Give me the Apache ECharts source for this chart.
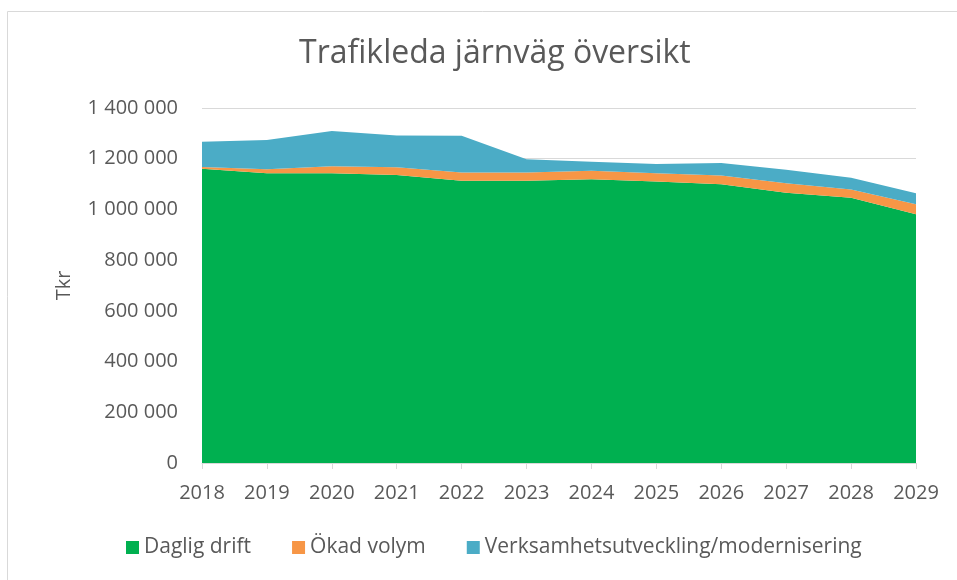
<!DOCTYPE html>
<html>
<head>
<meta charset="utf-8">
<script src="https://cdn.jsdelivr.net/npm/echarts@6/dist/echarts.min.js"></script>
<style>
  html, body { margin: 0; padding: 0; background: #fff; }
  #chart { width: 957px; height: 580px; }
</style>
</head>
<body>
<div id="chart"></div>
<script>
var years = ["2018", "2019", "2020", "2021", "2022", "2023", "2024", "2025", "2026", "2027", "2028", "2029"];
var dagligDrift = [1160000, 1143000, 1143000, 1136000, 1113000, 1113000, 1119000, 1110000, 1099000, 1066000, 1046000, 981000];
var okadVolym = [7000, 15000, 27000, 30000, 33000, 33000, 34000, 33000, 35000, 37000, 33000, 39000];
var verksamhet = [100000, 116000, 139000, 126000, 145000, 52000, 35000, 36000, 49000, 53000, 46000, 44000];

var font = "'Open Sans', 'Noto Sans', sans-serif";
var textColor = "#595959";

function fmt(v) {
  // space as thousands separator
  return String(v).replace(/\B(?=(\d{3})+(?!\d))/g, " ");
}

function areaSeries(name, data, color) {
  return {
    name: name,
    type: "line",
    stack: "total",
    data: data,
    symbol: "none",
    lineStyle: { width: 0 },
    areaStyle: { color: color, opacity: 1 },
    itemStyle: { color: color },
  };
}

var chart = echarts.init(document.getElementById("chart"));
chart.setOption({
  animation: false,
  textStyle: { fontFamily: font },
  graphic: [
    {
      type: "rect",
      left: 5,
      top: 9,
      shape: { width: 960, height: 600 },
      style: { fill: "none", stroke: "#d9d9d9", lineWidth: 1 },
    },
  ],
  title: {
    text: "Trafikleda järnväg översikt",
    left: 294,
    top: 33,
    textStyle: { fontFamily: font, fontSize: 32, fontWeight: "normal", color: textColor },
  },
  legend: {
    bottom: 17,
    left: 121,
    itemWidth: 13,
    itemHeight: 13,
    itemGap: 41,
    icon: "rect",
    textStyle: { fontFamily: font, fontSize: 21, color: textColor },
    data: ["Daglig drift", "Ökad volym", "Verksamhetsutveckling/modernisering"],
  },
  grid: { left: 202, right: 41, top: 108, bottom: 117 },
  xAxis: {
    type: "category",
    boundaryGap: false,
    data: years,
    axisLine: { lineStyle: { color: "#d9d9d9" } },
    axisTick: { show: true, length: 6, lineStyle: { color: "#d9d9d9" } },
    axisLabel: { fontFamily: font, fontSize: 20, color: textColor, margin: 20 },
  },
  yAxis: {
    type: "value",
    min: 0,
    max: 1400000,
    interval: 200000,
    name: "Tkr",
    nameLocation: "middle",
    nameGap: 128,
    nameTextStyle: { fontFamily: font, fontSize: 20, color: textColor },
    axisLine: { show: false },
    axisTick: { show: false },
    splitLine: { lineStyle: { color: "#d9d9d9" } },
    axisLabel: { fontFamily: font, fontSize: 20, color: textColor, margin: 24, formatter: fmt },
  },
  series: [
    areaSeries("Daglig drift", dagligDrift, "#00B050"),
    areaSeries("Ökad volym", okadVolym, "#F79646"),
    areaSeries("Verksamhetsutveckling/modernisering", verksamhet, "#4BACC6"),
  ],
});
</script>
</body>
</html>
